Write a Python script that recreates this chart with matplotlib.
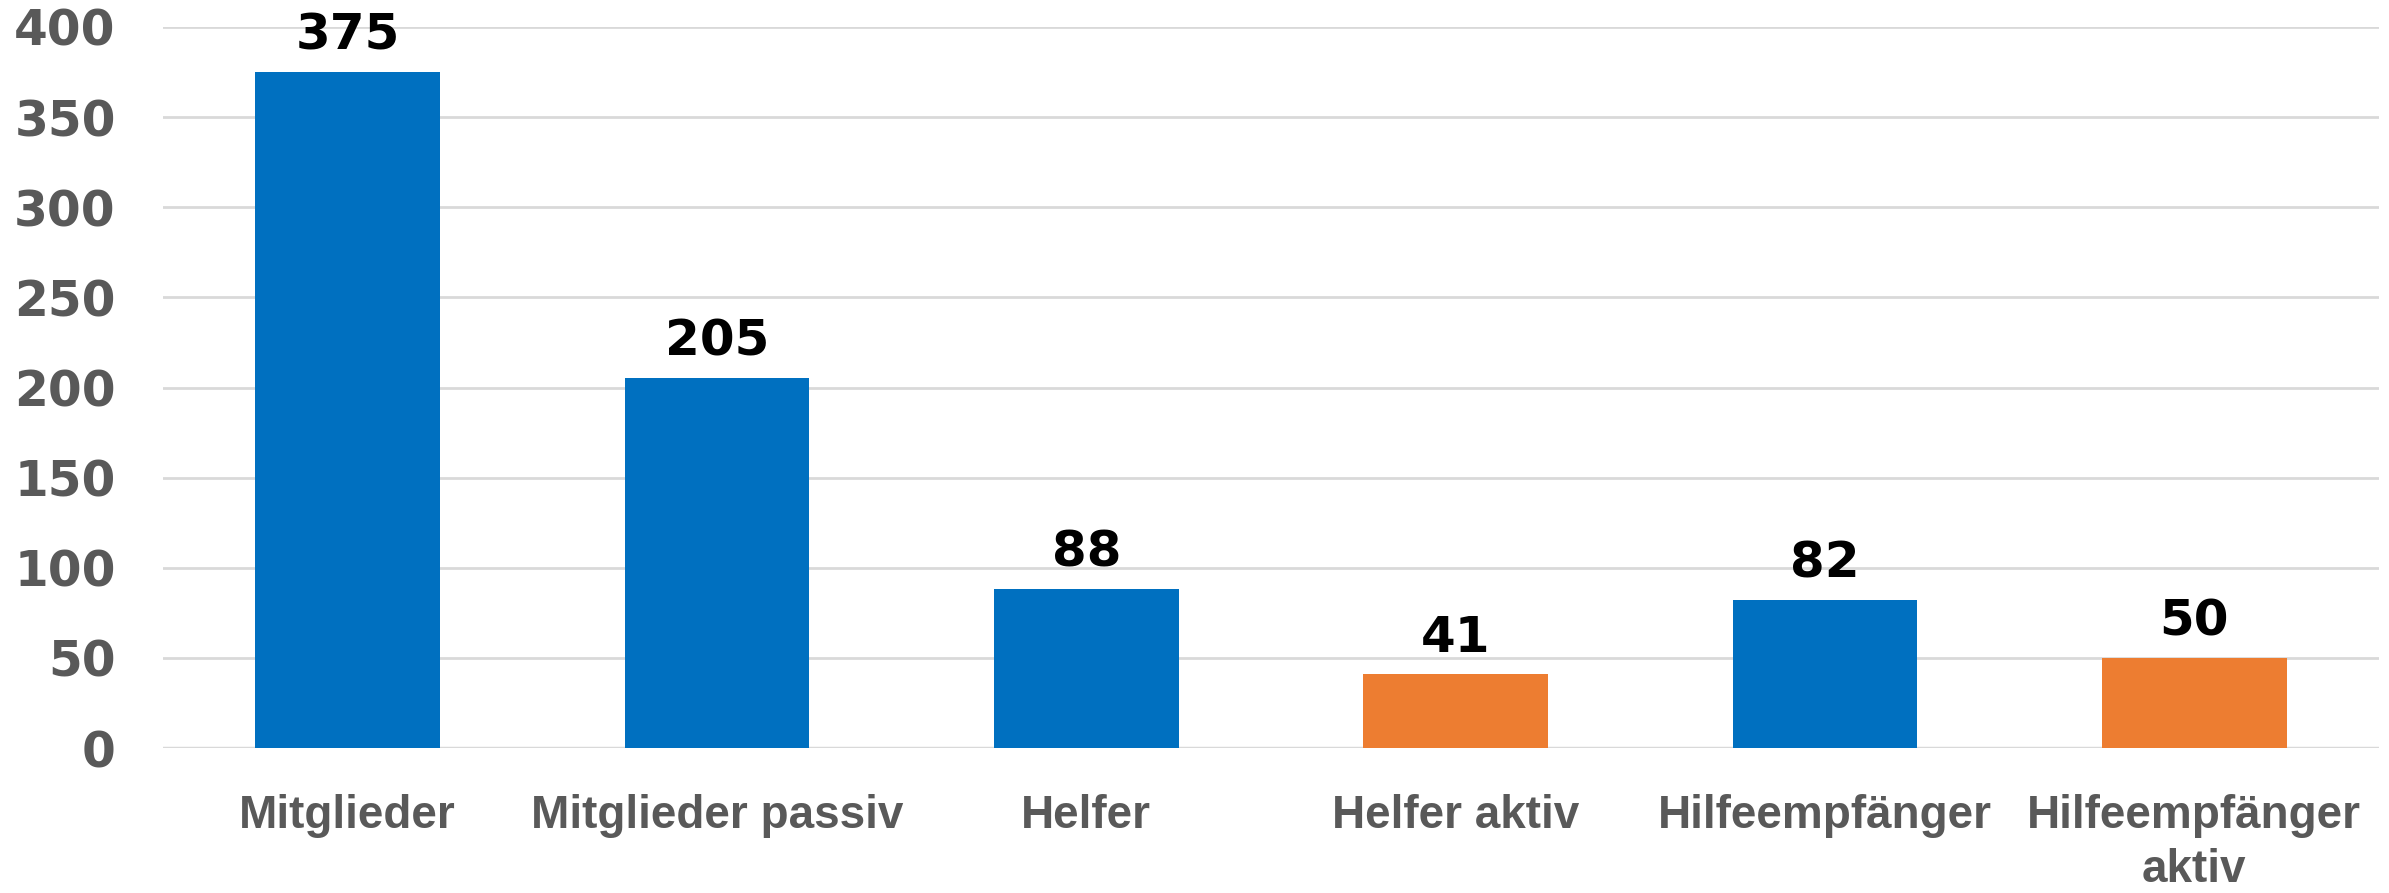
import matplotlib
matplotlib.use("Agg")
import matplotlib.pyplot as plt

# chart data
categories = ["Mitglieder", "Mitglieder passiv", "Helfer", "Helfer aktiv",
              "Hilfeempfänger", "Hilfeempfänger\naktiv"]
counts = [375, 205, 88, 41, 82, 50]
bar_colors = ["#0070C0", "#0070C0", "#0070C0", "#ED7D31", "#0070C0", "#ED7D31"]
y_ticks = [0, 50, 100, 150, 200, 250, 300, 350, 400]

fig = plt.figure(figsize=(23.89, 8.93), dpi=100)
ax = fig.add_axes([163 / 2389, 1 - 748 / 893, (2379 - 163) / 2389, (748 - 27) / 893])

bars = ax.bar(range(len(categories)), counts, width=0.5, color=bar_colors, zorder=3)
ax.bar_label(bars, labels=[str(c) for c in counts], padding=9,
             fontsize=36, fontweight="bold", color="black")

ax.set_xlim(-0.5, len(categories) - 0.5)
ax.set_ylim(0, 400)
ax.set_yticks(y_ticks)
ax.yaxis.grid(True, color="#D9D9D9", linewidth=2, zorder=0)
ax.set_axisbelow(True)
for side in ["top", "right", "left", "bottom"]:
    ax.spines[side].set_visible(False)
ax.axhline(0, color="#D9D9D9", linewidth=2.5, zorder=1)

ax.tick_params(axis="both", length=0)
ax.tick_params(axis="y", pad=34, labelsize=35, labelcolor="#595959")
ax.tick_params(axis="x", pad=33, labelcolor="#595959")
for lbl in ax.get_yticklabels():
    lbl.set_fontweight("bold")

ax.set_xticks(range(len(categories)))
ax.set_xticklabels(categories, fontsize=33, fontweight="bold",
                   family=["Liberation Sans", "DejaVu Sans"],
                   linespacing=1.3)

fig.savefig("out.png", dpi=100)
